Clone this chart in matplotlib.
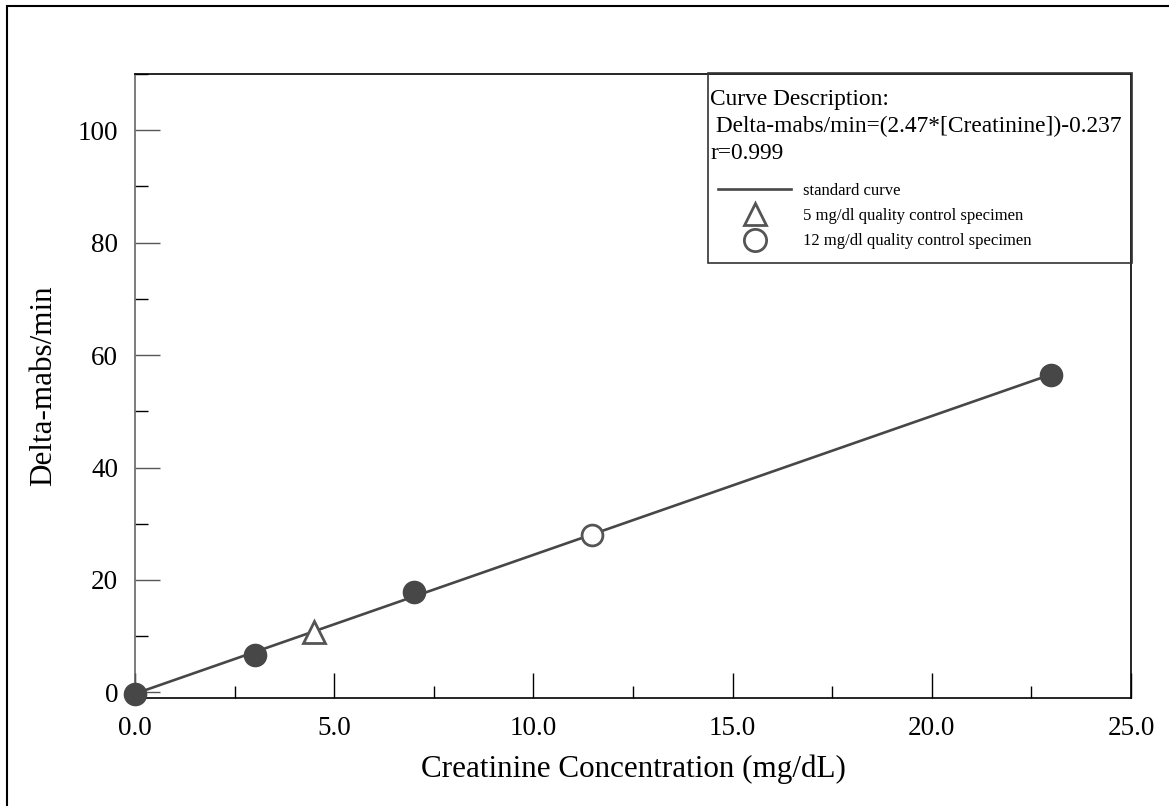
import numpy as np
import matplotlib
matplotlib.use("Agg")
import matplotlib.pyplot as plt
from matplotlib.ticker import MultipleLocator, FormatStrFormatter
from matplotlib.patches import Rectangle
from matplotlib.lines import Line2D

# standard points and the fitted line
std_x = [0.0, 3.0, 7.0, 23.0]
std_y = [-0.2, 6.7, 17.9, 56.5]
curve_x = [0.0, 23.0]
curve_y = [-0.24, 56.57]
qc5_x, qc5_y = [4.5], [10.7]
qc12_x, qc12_y = [11.46], [28.0]

title_lines = ["Curve Description:",
               " Delta-mabs/min=(2.47*[Creatinine])-0.237",
               "r=0.999"]
legend_labels = ["standard curve",
                 "5 mg/dl quality control specimen",
                 "12 mg/dl quality control specimen"]

plt.rcParams['font.family'] = ['Liberation Serif', 'DejaVu Serif']

W, H = 1169, 806
fig = plt.figure(figsize=(W / 100, H / 100), dpi=100)
ax = fig.add_axes([135 / W, 1 - 698 / H, 996 / W, 624 / H])

dark = "#474747"
edge = "#555555"
ax.plot(curve_x, curve_y, color=dark, lw=1.9, zorder=2, clip_on=False)
ax.plot(std_x, std_y, 'o', color=dark, ms=16, zorder=3, clip_on=False)
ax.plot(qc5_x, qc5_y, '^', mfc='white', mec=edge, mew=2, ms=16, zorder=3)
ax.plot(qc12_x, qc12_y, 'o', mfc='white', mec=edge, mew=2, ms=15, zorder=3)

ax.set_xlim(0, 25)
ax.set_ylim(-1, 110)
ax.xaxis.set_major_locator(MultipleLocator(5))
ax.xaxis.set_minor_locator(MultipleLocator(2.5))
ax.yaxis.set_major_locator(MultipleLocator(20))
ax.yaxis.set_minor_locator(MultipleLocator(10))
ax.xaxis.set_major_formatter(FormatStrFormatter('%.1f'))
ax.yaxis.set_major_formatter(FormatStrFormatter('%d'))
ax.tick_params(which='both', direction='in', top=False, right=False, labelsize=19.5)
ax.tick_params(which='major', length=18, width=1)
ax.tick_params(which='minor', length=9, width=1)
ax.tick_params(axis='x', pad=13, colors='black')
ax.tick_params(axis='y', pad=12, color='#555555')
ax.spines['left'].set_color('#666666')
for s in ax.spines.values():
    s.set_linewidth(1.2)

ax.set_xlabel("Creatinine Concentration (mg/dL)", fontsize=22.4, labelpad=10)
ax.set_ylabel("Delta-mabs/min", fontsize=22.4, labelpad=14)

def fx(px):
    return (px - 135) / 996

def fy(py):
    return (698 - py) / 624

# legend box
box = Rectangle((fx(708), fy(263)), fx(1132) - fx(708), fy(73) - fy(263),
                transform=ax.transAxes, fill=False, ec="#333333", lw=1.2,
                clip_on=False, zorder=4)
ax.add_patch(box)
ax.text(fx(710), fy(89), "\n".join(title_lines), transform=ax.transAxes,
        fontsize=16.8, va='top', ha='left', linespacing=1.36, zorder=5)

handles = [Line2D([], [], color=dark, lw=1.9),
           Line2D([], [], ls='none', marker='^', mfc='white', mec=edge, mew=2, ms=16),
           Line2D([], [], ls='none', marker='o', mfc='white', mec=edge, mew=2, ms=16)]
ax.legend(handles, legend_labels, loc='upper left', bbox_to_anchor=(fx(718), fy(183)),
          frameon=False, fontsize=12, handlelength=4.4, handletextpad=0.7,
          labelspacing=0.55, borderpad=0, borderaxespad=0)

# outer frame
fig.add_artist(Rectangle((7 / W, -0.1), 1.2, 1.1 - 6 / H, transform=fig.transFigure,
                         fill=False, ec='black', lw=1.5))

fig.savefig("out.png", dpi=100)
